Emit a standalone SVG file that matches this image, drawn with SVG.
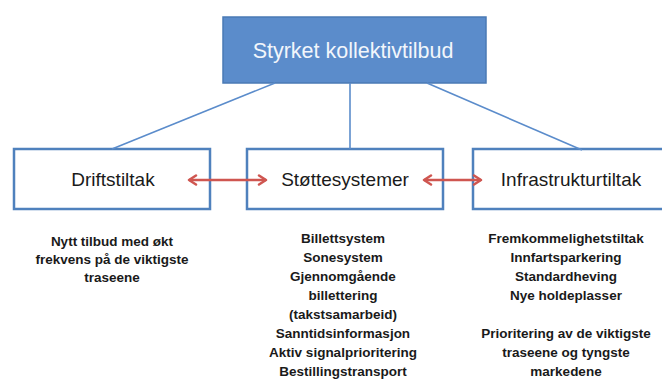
<svg xmlns="http://www.w3.org/2000/svg" width="662" height="381" viewBox="0 0 662 381">
<style>
.box{fill:#ffffff;stroke:#4f81bd;stroke-width:2.5}
.lbl{font-family:"Liberation Sans",Arial,sans-serif;font-size:19px;fill:#1a1a1a;text-anchor:middle}
.sub{font-family:"Liberation Sans",Arial,sans-serif;font-size:13.5px;font-weight:bold;fill:#1a1a1a;text-anchor:middle}
.conn{stroke:#5b8ccb;stroke-width:1.6;fill:none}
.arr{stroke:#cf5650;stroke-width:2.5;fill:none;marker-start:url(#ah);marker-end:url(#ah)}
</style>
<defs>
<marker id="ah" viewBox="0 0 12 12" refX="10" refY="6" markerWidth="12" markerHeight="12" markerUnits="userSpaceOnUse" orient="auto-start-reverse">
<path d="M3,1.5 L10,6 L3,10.5" fill="none" stroke="#cf5650" stroke-width="2.5" stroke-linecap="round" stroke-linejoin="round"/>
</marker>
</defs>
<rect width="662" height="381" fill="#ffffff"/>
<g id="top">
<rect x="223" y="17" width="263" height="66" fill="#5b8ccb" stroke="#4a7ab5" stroke-width="1.5"/>
<text x="353" y="58" font-family="Liberation Sans, Arial, sans-serif" font-size="21.5" fill="#f2f6fb" text-anchor="middle">Styrket kollektivtilbud</text>
</g>
<g id="drift">
<rect class="box" x="14" y="149" width="196" height="60"/>
<text class="lbl" x="113" y="186">Driftstiltak</text>
</g>
<g id="stotte">
<rect class="box" x="247" y="149" width="196" height="60"/>
<text class="lbl" x="345" y="186">Støttesystemer</text>
</g>
<g id="infra">
<rect class="box" x="473" y="149" width="200" height="60"/>
<text class="lbl" x="571" y="186">Infrastrukturtiltak</text>
</g>
<g id="connectors">
<line class="conn" x1="275" y1="83" x2="112" y2="149"/>
<line class="conn" x1="350" y1="83" x2="350" y2="149"/>
<line class="conn" x1="427" y1="83" x2="582" y2="150"/>
<line class="arr" x1="189" y1="180" x2="266" y2="180"/>
<line class="arr" x1="424" y1="180" x2="481" y2="180"/>
</g>
<g id="drift-text">
<text class="sub" x="112" y="246">Nytt tilbud med økt</text>
<text class="sub" x="112" y="264">frekvens på de viktigste</text>
<text class="sub" x="112" y="282">traseene</text>
</g>
<g id="stotte-text">
<text class="sub" x="343" y="243">Billettsystem</text>
<text class="sub" x="343" y="262">Sonesystem</text>
<text class="sub" x="343" y="281">Gjennomgående</text>
<text class="sub" x="343" y="300">billettering</text>
<text class="sub" x="343" y="319">(takstsamarbeid)</text>
<text class="sub" x="343" y="338">Sanntidsinformasjon</text>
<text class="sub" x="343" y="357">Aktiv signalprioritering</text>
<text class="sub" x="343" y="376">Bestillingstransport</text>
</g>
<g id="infra-text">
<text class="sub" x="566" y="243">Fremkommelighetstiltak</text>
<text class="sub" x="566" y="262">Innfartsparkering</text>
<text class="sub" x="566" y="281">Standardheving</text>
<text class="sub" x="566" y="300">Nye holdeplasser</text>
<text class="sub" x="566" y="338">Prioritering av de viktigste</text>
<text class="sub" x="566" y="357">traseene og tyngste</text>
<text class="sub" x="566" y="376">markedene</text>
</g>
</svg>
